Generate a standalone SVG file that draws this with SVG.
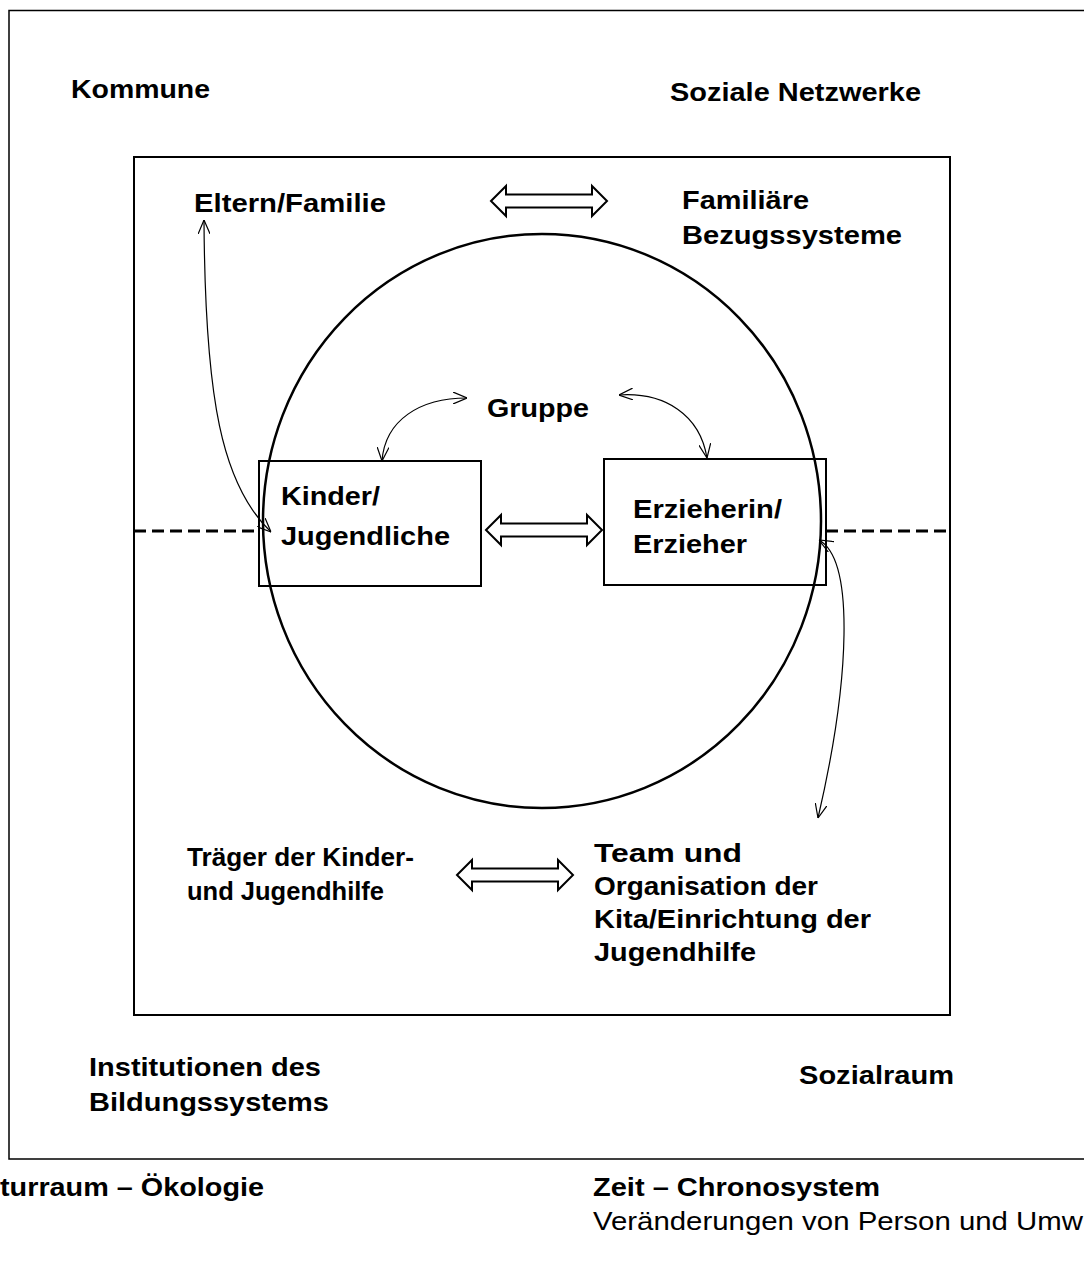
<svg xmlns="http://www.w3.org/2000/svg" width="1084" height="1283" viewBox="0 0 1084 1283">
<style>
.t{font-family:"Liberation Sans",Arial,sans-serif;font-size:26px;font-weight:bold;fill:#000}
.r{font-family:"Liberation Sans",Arial,sans-serif;font-size:26px;font-weight:normal;fill:#000}
.frame{fill:none;stroke:#000}
.curve{fill:none;stroke:#000;stroke-width:1.2;marker-start:url(#open);marker-end:url(#open)}
.block{fill:#fff;stroke:#000;stroke-width:2;stroke-linejoin:miter}
.dash{stroke:#000;stroke-width:3;stroke-dasharray:12 6}
</style>
<defs>
<marker id="open" viewBox="0 0 14 12" refX="14" refY="6" markerUnits="userSpaceOnUse" markerWidth="14" markerHeight="12" orient="auto-start-reverse">
<path d="M0,0 L14,6 L0,12" fill="none" stroke="#000" stroke-width="1.2"/>
</marker>
<path id="dbl" d="M0,0 L15,-15 L15,-6.5 L101,-6.5 L101,-15 L116,0 L101,15 L101,6.5 L15,6.5 L15,15 Z"/>
</defs>
<rect width="1084" height="1283" fill="#fff"/>

<g id="outer">
<rect class="frame" x="9" y="10.5" width="1090" height="1148.5" stroke-width="1.5"/>
<text class="t" x="71" y="98" textLength="139" lengthAdjust="spacingAndGlyphs">Kommune</text>
<text class="t" x="670" y="101" textLength="251" lengthAdjust="spacingAndGlyphs">Soziale Netzwerke</text>
<text class="t" x="89" y="1076" textLength="232" lengthAdjust="spacingAndGlyphs">Institutionen des</text>
<text class="t" x="89" y="1111" textLength="240" lengthAdjust="spacingAndGlyphs">Bildungssystems</text>
<text class="t" x="799" y="1084" textLength="155" lengthAdjust="spacingAndGlyphs">Sozialraum</text>
</g>

<g id="inner">
<rect class="frame" x="134" y="157" width="816" height="858" stroke-width="2"/>
<text class="t" x="194" y="212" textLength="192" lengthAdjust="spacingAndGlyphs">Eltern/Familie</text>
<text class="t" x="682" y="209" textLength="127" lengthAdjust="spacingAndGlyphs">Familiäre</text>
<text class="t" x="682" y="244" textLength="220" lengthAdjust="spacingAndGlyphs">Bezugssysteme</text>
<text class="t" x="187" y="866" textLength="227" lengthAdjust="spacingAndGlyphs">Träger der Kinder-</text>
<text class="t" x="187" y="900" textLength="197" lengthAdjust="spacingAndGlyphs">und Jugendhilfe</text>
<text class="t" x="594" y="862" textLength="148" lengthAdjust="spacingAndGlyphs">Team und</text>
<text class="t" x="594" y="895" textLength="224" lengthAdjust="spacingAndGlyphs">Organisation der</text>
<text class="t" x="594" y="928" textLength="277" lengthAdjust="spacingAndGlyphs">Kita/Einrichtung der</text>
<text class="t" x="594" y="961" textLength="162" lengthAdjust="spacingAndGlyphs">Jugendhilfe</text>
</g>

<g id="kinder">
<rect class="frame" x="259" y="461" width="222" height="125" stroke-width="2"/>
<text class="t" x="281" y="505" textLength="99" lengthAdjust="spacingAndGlyphs">Kinder/</text>
<text class="t" x="281" y="545" textLength="169" lengthAdjust="spacingAndGlyphs">Jugendliche</text>
</g>

<g id="erzieher">
<rect class="frame" x="604" y="459" width="222" height="126" stroke-width="2"/>
<text class="t" x="633" y="518" textLength="149" lengthAdjust="spacingAndGlyphs">Erzieherin/</text>
<text class="t" x="633" y="553" textLength="114" lengthAdjust="spacingAndGlyphs">Erzieher</text>
</g>

<g id="gruppe">
<ellipse class="frame" cx="542" cy="521" rx="279" ry="287" stroke-width="2.5"/>
<text class="t" x="487" y="417" textLength="102" lengthAdjust="spacingAndGlyphs">Gruppe</text>
</g>

<g id="bottom">
<text class="t" x="0" y="1196" textLength="264" lengthAdjust="spacingAndGlyphs">turraum – Ökologie</text>
<text class="t" x="593" y="1196" textLength="287" lengthAdjust="spacingAndGlyphs">Zeit – Chronosystem</text>
<text class="r" x="593" y="1230" textLength="490" lengthAdjust="spacingAndGlyphs">Veränderungen von Person und Umw</text>
</g>

<g id="connectors">
<line class="dash" x1="134" y1="531" x2="259" y2="531"/>
<line class="dash" x1="826" y1="531" x2="950" y2="531"/>
<use href="#dbl" class="block" transform="translate(491,201)"/>
<use href="#dbl" class="block" transform="translate(486,530)"/>
<use href="#dbl" class="block" transform="translate(457,875)"/>
<path class="curve" d="M204,220 C205,400 222,485 271,532"/>
<path class="curve" d="M467,398 C420,398 385,420 382,461"/>
<path class="curve" d="M619,395 C665,392 700,415 707,458"/>
<path class="curve" d="M819,540 C855,560 850,680 818,818"/>
</g>
</svg>
